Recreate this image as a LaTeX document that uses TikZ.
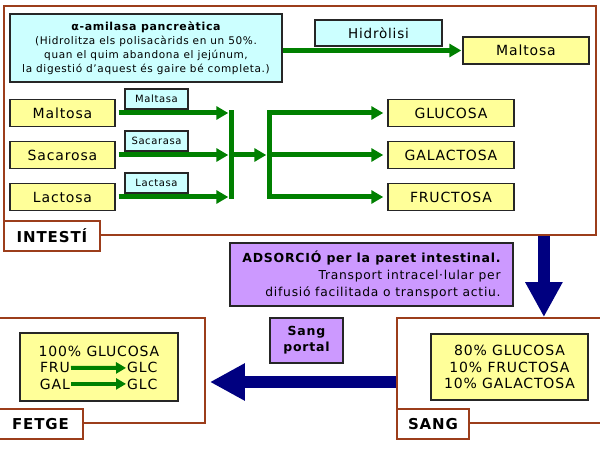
\documentclass[tikz,border=0pt]{standalone}
\usepackage{fontspec}
\setmainfont{DejaVu Sans}[LetterSpace=6]
\usepackage{tikz}
\usetikzlibrary{
  arrows.meta,
  positioning,
  calc
}
\definecolor{dgGut}{HTML}{9C3D1B}
\definecolor{dgFlow}{HTML}{008000}
\definecolor{dgBlood}{HTML}{000080}
\definecolor{dgSugar}{HTML}{FFFF99}
\definecolor{dgEnzyme}{HTML}{CCFFFF}
\definecolor{dgNote}{HTML}{CC99FF}
\definecolor{dgEdge}{HTML}{262626}
\tikzset{
  dgnode/.style={
    draw=dgEdge, line width=1.4pt, inner sep=2pt, align=center
  },
  sugar/.style={dgnode, fill=dgSugar, font=\fontsize{14}{16.5}\selectfont},
  enzyme/.style={dgnode, fill=dgEnzyme, minimum width=63, minimum height=20, font=\fontsize{10}{11}\selectfont},
  note/.style={dgnode, fill=dgNote},
  organ/.style={draw=dgGut, line width=1.8pt},
  organtag/.style={organ, fill=white, anchor=west, minimum height=30, font=\fontsize{15}{18}\selectfont\bfseries},
  joinbar/.style={fill=dgFlow, minimum width=5, minimum height=89, inner sep=0pt},
  glyph/.style={inner sep=1pt, font=\fontsize{14}{16.5}\selectfont},
  flow/.style={-{Triangle[length=12pt, width=13pt]}, line width=5pt, dgFlow},
  smallflow/.style={-{Triangle[length=10pt, width=11pt]}, line width=4pt, dgFlow},
  bigflow/.style={-{Triangle[length=35pt, width=35pt]}, line width=12.5pt, dgBlood}
}
\begin{document}
\begin{tikzpicture}[x=1pt, y=-1pt]
  \useasboundingbox (0,0) rectangle (600,462);
  \clip (0,0) rectangle (600,462);
  \node[organ, minimum width=592, minimum height=229] (intesti) at (300,120.5) {};
  \node[organ, minimum width=207, minimum height=105] (fetge) at (101.5,370.5) {};
  \node[organ, minimum width=207, minimum height=105] (sang) at (500.5,370.5) {};
  \node[organtag, minimum width=96] (intestiTag) at (intesti.south west) {INTESTÍ};
  \node[organtag, minimum width=85] (fetgeTag) at (fetge.south west) {FETGE};
  \node[organtag, minimum width=72] (sangTag) at (sang.south west) {SANG};

  \node[dgnode, fill=dgEnzyme, minimum width=272, minimum height=68, font=\fontsize{10.5}{13.8}\selectfont]
    (amilasa) at (146,48)
    {{\bfseries\fontsize{11}{13.8}\selectfont α-amilasa pancreàtica}\\(Hidrolitza els polisacàrids en un 50\%.\\quan el quim abandona el jejúnum,\\la digestió d’aquest és gaire bé completa.)};
  \node[sugar, minimum width=126, minimum height=27] (maltosaTop) at (526,50.5) {Maltosa};
  \node[enzyme, minimum width=127, minimum height=26, font=\fontsize{13.5}{16}\selectfont] (hidrolisi) at (378.5,33) {Hidròlisi};
  \draw[flow, shorten >=1pt] (amilasa.east |- maltosaTop.west) -- (maltosaTop.west);

  \node[joinbar] (joinL) at (231,155) {};
  \node[joinbar] (joinR) at (269,155) {};
  \foreach \y/\nm/\txt/\enz in {
    113/malt/Maltosa/Maltasa,
    155/sacar/Sacarosa/Sacarasa,
    197/lact/Lactosa/Lactasa}{
    \node[sugar, minimum width=105, minimum height=27] (\nm) at (62.5,\y) {\txt};
    \node[enzyme] (\nm Enz) at (156.5,\y-14) {\enz};
    \draw[flow, shorten <=3pt] (\nm.east) -- (\nm.east -| joinL.west);
  }
  \draw[flow] (joinL.east) -- (joinR.west);
  \foreach \y/\nm/\txt in {
    113/glucosa/GLUCOSA,
    155/galactosa/GALACTOSA,
    197/fructosa/FRUCTOSA}{
    \node[sugar, minimum width=126, minimum height=27] (\nm) at (451,\y) {\txt};
    \draw[flow, shorten >=4pt] (\nm.west -| joinR.east) -- (\nm.west);
  }

  \node[note, minimum width=283, minimum height=63, align=right, font=\fontsize{12.3}{17}\selectfont]
    (adsorcio) at (371.5,274.5)
    {{\bfseries\fontsize{12.5}{17}\selectfont ADSORCIÓ per la paret intestinal.}\\Transport intracel·lular per\\difusió facilitada o transport actiu.};
  \node[note, minimum width=73, minimum height=45, font=\fontsize{12.5}{16}\selectfont\bfseries] (portal) at (306.5,340.5) {Sang\\portal};

  \coordinate (drop) at ([xshift=-53pt]intesti.south east);
  \draw[bigflow] (drop) -- (drop |- sang.north);
  \draw[bigflow] ([yshift=-11.5pt]sang.west) -- ([shift={(4pt,-11.5pt)}]fetge.east);

  \node[sugar, minimum width=157, minimum height=66] (sangMix) at (509.5,367) {80\% GLUCOSA\\10\% FRUCTOSA\\10\% GALACTOSA};
  \node[sugar, minimum width=158, minimum height=68] (fetgeMix) at (99,367) {};
  \node[glyph, anchor=base] (glc100) at (99,356) {100\% GLUCOSA};
  \node[glyph, anchor=base east] (fruIn) at (71,373) {FRU};
  \node[glyph, anchor=base west] (fruOut) at (126,373) {GLC};
  \node[glyph, anchor=base east] (galIn) at (71,389) {GAL};
  \node[glyph, anchor=base west] (galOut) at (126,389) {GLC};
  \draw[smallflow] (fruIn.east) -- (fruOut.west);
  \draw[smallflow] (galIn.east) -- (galOut.west);
\end{tikzpicture}
\end{document}
